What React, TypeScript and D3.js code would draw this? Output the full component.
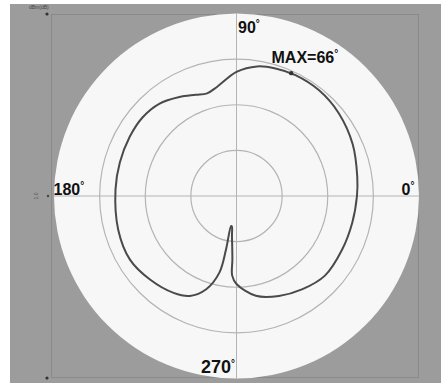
import React from "react";
import * as d3 from "d3";

// Radiation pattern, angle in degrees (0° = right, counter-clockwise), relative radius (outer ring = 1)
const angles = [0, 9, 24, 39, 52, 64, 73, 81, 90, 100, 106, 112, 120, 130, 140, 151, 164, 177, 196, 211, 224, 237, 245, 252, 257.4, 258.9, 259.8, 261.5, 263.5, 265.2, 266.3, 266.9, 270, 281, 293, 305, 318, 333, 347];
const values = [0.66, 0.67, 0.697, 0.721, 0.735, 0.737, 0.731, 0.719, 0.68, 0.608, 0.585, 0.598, 0.626, 0.659, 0.671, 0.669, 0.665, 0.664, 0.674, 0.68, 0.659, 0.633, 0.604, 0.537, 0.43, 0.297, 0.167, 0.17, 0.22, 0.28, 0.35, 0.437, 0.482, 0.557, 0.595, 0.625, 0.652, 0.649, 0.651];
const ringLevels = [0.25, 0.5, 0.75, 1];
const maxAngle = 66;
const maxValue = 0.737;
const axisLabels = [
  { text: "0°", deg: 0 },
  { text: "90°", deg: 90 },
  { text: "180°", deg: 180 },
  { text: "270°", deg: 270 },
];

export default function App() {
  const W = 441, H = 388;
  const cx = 236.5, cy = 196, R = 182.5;
  const r = d3.scaleLinear().domain([0, 1]).range([0, R]);
  const toRad = (deg: number) => (deg * Math.PI) / 180;
  const pts = angles.map((a, i) => ({ a, v: values[i] }));
  const line = d3
    .lineRadial<{ a: number; v: number }>()
    .angle((d) => Math.PI / 2 - toRad(d.a))
    .radius((d) => r(d.v))
    .curve(d3.curveCatmullRomClosed.alpha(0.5));
  const pol = (deg: number, v: number) => [cx + r(v) * Math.cos(toRad(deg)), cy - r(v) * Math.sin(toRad(deg))];
  const [mx, my] = pol(maxAngle, maxValue);
  const font = "'Liberation Sans', Arial, sans-serif";
  const labelPos: Record<number, { x: number; y: number; anchor: string; size: number }> = {
    0: { x: 401.5, y: 194.5, anchor: "start", size: 16 },
    90: { x: 238, y: 32.5, anchor: "start", size: 16 },
    180: { x: 53.5, y: 195, anchor: "start", size: 16 },
    270: { x: 201, y: 373, anchor: "start", size: 18 },
  };
  return (
    <svg width={W} height={H} style={{ position: "absolute", left: 0, top: 0 }}>
      <rect x={0} y={0} width={W} height={H} fill="#ffffff" />
      <rect x={10} y={4} width={W - 10} height={379} fill="#9c9c9c" />
      <rect x={51.5} y={14.5} width={367} height={363} fill="none" stroke="#8a8a8a" strokeWidth={1} />
      <text x={29} y={9} fontSize={5} fontFamily={font} fill="#444">dBm(dB)</text>
      <circle cx={47} cy={14} r={1.6} fill="#333" />
      <circle cx={47} cy={378} r={1.6} fill="#333" />
      <circle cx={48} cy={196} r={1.2} fill="#444" />
      <text x={38} y={196} fontSize={5} fontFamily={font} fill="#555" textAnchor="middle" transform="rotate(-90 38 196)">1.0</text>
      <circle cx={cx} cy={cy} r={R} fill="#f7f7f7" />
      {ringLevels.slice(0, 3).map((lv) => (
        <circle key={lv} cx={cx} cy={cy} r={r(lv)} fill="none" stroke="#b4b4b4" strokeWidth={1.2} />
      ))}
      <line x1={cx - R} x2={cx + R} y1={cy} y2={cy} stroke="#b4b4b4" strokeWidth={1} />
      <line x1={cx} x2={cx} y1={cy - R} y2={cy + R} stroke="#b4b4b4" strokeWidth={1} />
      <path d={line(pts) || ""} transform={`translate(${cx},${cy})`} fill="none" stroke="#4a4a4a" strokeWidth={2} strokeLinejoin="round" />
      <circle cx={mx} cy={my} r={2.2} fill="#333" />
      <text x={271.5} y={63} fontSize={16} fontWeight="bold" fontFamily={font} fill="#111">
        MAX=66<tspan fontSize={10} dy={-6}>°</tspan>
      </text>
      {axisLabels.map((l) => {
        const p = labelPos[l.deg];
        const num = l.text.replace("°", "");
        return (
          <text key={l.deg} x={p.x} y={p.y} fontSize={p.size} fontWeight="bold" fontFamily={font} fill="#111" textAnchor={p.anchor}>
            {num}
            <tspan fontSize={10} dy={-6}>°</tspan>
          </text>
        );
      })}
    </svg>
  );
}
